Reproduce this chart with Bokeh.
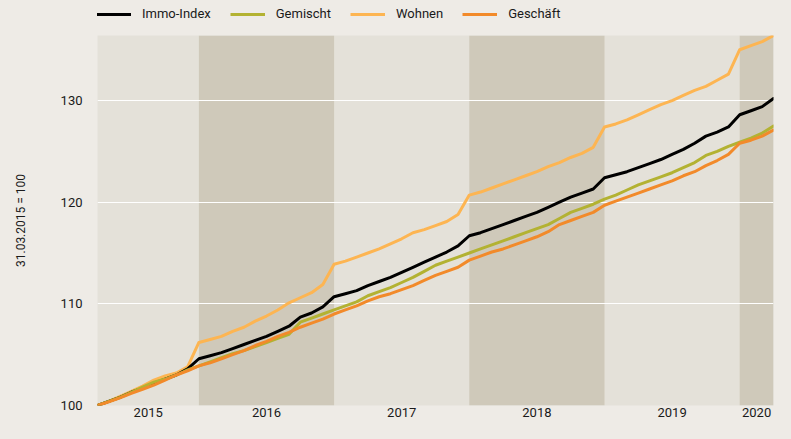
import pandas as pd
from bokeh.plotting import figure
from bokeh.layouts import column
from bokeh.models import Range1d, FixedTicker, Legend, LegendItem, BoxAnnotation
from bokeh.embed import file_html
from bokeh.resources import INLINE

# ---- data (monthly, 31.03.2015 = 100) ----
dates = pd.date_range("2015-03-31", periods=61, freq="ME")

immo = [100.0, 100.4, 100.8, 101.3, 101.7, 102.2, 102.6, 103.0, 103.6,
        104.6, 104.9, 105.2, 105.6, 106.0, 106.4, 106.8, 107.3, 107.8, 108.7, 109.1, 109.7,
        110.7, 111.0, 111.3, 111.8, 112.2, 112.6, 113.1, 113.6, 114.1, 114.6, 115.1, 115.7,
        116.7, 117.0, 117.4, 117.8, 118.2, 118.6, 119.0, 119.5, 120.0, 120.5, 120.9, 121.3,
        122.4, 122.7, 123.0, 123.4, 123.8, 124.2, 124.7, 125.2, 125.8, 126.5, 126.9, 127.4,
        128.6, 129.0, 129.4, 130.2]
gemischt = [100.0, 100.4, 100.8, 101.3, 101.8, 102.3, 102.6, 103.0, 103.5,
            103.9, 104.3, 104.7, 105.1, 105.4, 105.8, 106.2, 106.6, 107.0, 108.2, 108.6, 109.0,
            109.4, 109.8, 110.2, 110.8, 111.2, 111.6, 112.1, 112.6, 113.2, 113.8, 114.2, 114.6,
            115.0, 115.4, 115.8, 116.2, 116.6, 117.0, 117.4, 117.8, 118.4, 119.0, 119.4, 119.8,
            120.3, 120.7, 121.2, 121.7, 122.1, 122.5, 122.9, 123.4, 123.9, 124.6, 125.0, 125.5,
            125.9, 126.3, 126.8, 127.5]
wohnen = [100.0, 100.4, 100.9, 101.4, 101.9, 102.5, 102.9, 103.2, 103.8,
          106.2, 106.5, 106.8, 107.3, 107.7, 108.3, 108.8, 109.4, 110.1, 110.6, 111.1, 111.9,
          113.9, 114.2, 114.6, 115.0, 115.4, 115.9, 116.4, 117.0, 117.3, 117.7, 118.1, 118.8,
          120.7, 121.0, 121.4, 121.8, 122.2, 122.6, 123.0, 123.5, 123.9, 124.4, 124.8, 125.4,
          127.4, 127.7, 128.1, 128.6, 129.1, 129.6, 130.0, 130.5, 131.0, 131.4, 132.0, 132.6,
          135.0, 135.4, 135.8, 136.4]
geschaeft = [100.0, 100.35, 100.75, 101.2, 101.6, 102.0, 102.5, 103.0, 103.4,
             103.9, 104.2, 104.6, 105.0, 105.4, 105.9, 106.3, 106.8, 107.2, 107.7, 108.1, 108.5,
             109.0, 109.4, 109.8, 110.3, 110.7, 111.0, 111.4, 111.8, 112.3, 112.8, 113.2, 113.6,
             114.3, 114.7, 115.1, 115.4, 115.8, 116.2, 116.6, 117.1, 117.8, 118.2, 118.6, 119.0,
             119.7, 120.1, 120.5, 120.9, 121.3, 121.7, 122.1, 122.6, 123.0, 123.6, 124.1, 124.7,
             125.8, 126.1, 126.5, 127.1]

series_names = ["Immo-Index", "Gemischt", "Wohnen", "Geschäft"]
year_labels = ["2015", "2016", "2017", "2018", "2019", "2020"]
y_ticks = [100, 110, 120, 130]
y_title = "31.03.2015 = 100"

# ---- styling ----
BG = "#EEEBE6"
LIGHT = "#E4E1D9"
DARK = "#CFC9BA"
colors = {"Immo-Index": "#000000", "Gemischt": "#B3B232",
          "Wohnen": "#FDB552", "Geschäft": "#F28A2A"}
FONT = "Roboto"

W = 775
LEG_H = 28
H = 423 - LEG_H
BL, BR, BT, BB = 97, 2, 7, 18

x = list(range(len(dates)))
n = len(dates) - 1

# year boundaries (index of each 31 December) and band centres
bounds = [0] + [i for i, d in enumerate(dates) if d.month == 12] + [n]
centers = [(bounds[k] + bounds[k + 1]) / 2 for k in range(len(bounds) - 1)]

p = figure(width=W, height=H, output_backend="svg", toolbar_location=None,
           x_range=Range1d(0, n), y_range=Range1d(100, max(wohnen)),
           min_border_left=BL, min_border_right=BR, min_border_top=BT, min_border_bottom=BB)
p.background_fill_color = LIGHT
p.border_fill_color = BG
p.outline_line_color = None

for k in range(len(bounds) - 1):
    if k % 2 == 1:
        p.add_layout(BoxAnnotation(left=bounds[k], right=bounds[k + 1],
                                   fill_color=DARK, fill_alpha=1.0, line_color=None,
                                   level="image"))

p.xgrid.grid_line_color = None
p.ygrid.grid_line_color = "white"
p.ygrid.grid_line_width = 1.2
p.ygrid.ticker = FixedTicker(ticks=y_ticks)

p.yaxis.ticker = FixedTicker(ticks=y_ticks)
p.xaxis.ticker = FixedTicker(ticks=centers)
p.xaxis.major_label_overrides = {c: lab for c, lab in zip(centers, year_labels)}
for ax in (p.xaxis[0], p.yaxis[0]):
    ax.axis_line_color = None
    ax.major_tick_line_color = None
    ax.minor_tick_line_color = None
    ax.major_tick_in = 0
    ax.major_tick_out = 0
    ax.major_label_text_font = FONT
    ax.major_label_text_font_size = "13px"
    ax.major_label_text_color = "#1a1a1a"
p.yaxis.major_label_standoff = 15
p.xaxis.major_label_standoff = 2
p.yaxis.axis_label = y_title
p.yaxis.axis_label_text_font = FONT
p.yaxis.axis_label_text_font_size = "12px"
p.yaxis.axis_label_text_font_style = "normal"
p.yaxis.axis_label_text_color = "#1a1a1a"
p.yaxis.axis_label_standoff = 30

data = {"Immo-Index": immo, "Gemischt": gemischt, "Wohnen": wohnen, "Geschäft": geschaeft}
for name in ["Wohnen", "Immo-Index", "Gemischt", "Geschäft"]:
    p.line(x, data[name], line_color=colors[name], line_width=3,
           line_join="round", line_cap="round")

# ---- legend strip on top (frame aligned with the chart below) ----
pl = figure(width=W, height=LEG_H, output_backend="svg", toolbar_location=None,
            x_range=Range1d(0, 1), y_range=Range1d(0, 1),
            x_axis_location=None, y_axis_location=None,
            min_border_left=BL, min_border_right=BR, min_border_top=0, min_border_bottom=0)
pl.background_fill_color = BG
pl.border_fill_color = BG
pl.outline_line_color = None
pl.xgrid.visible = False
pl.ygrid.visible = False
# legend proxies: first data point only, outside the strip's visible range
proxies = {nm: pl.line(x[:1], data[nm][:1], line_color=colors[nm], line_width=3)
           for nm in series_names}

legend = Legend(items=[LegendItem(label=nm, renderers=[proxies[nm]]) for nm in series_names],
                orientation="horizontal", location=(-1, 7),
                glyph_width=35, glyph_height=14, label_standoff=11, spacing=19,
                padding=0, margin=0, label_height=14,
                background_fill_alpha=0, border_line_alpha=0,
                label_text_font=FONT, label_text_font_size="13px",
                label_text_color="#1a1a1a")
pl.add_layout(legend, "center")

layout = column(pl, p, spacing=0)
html = file_html(layout, INLINE)
html = html.replace("<body>", '<body style="background-color:%s;">' % BG)
open("out.html", "w").write(html)
